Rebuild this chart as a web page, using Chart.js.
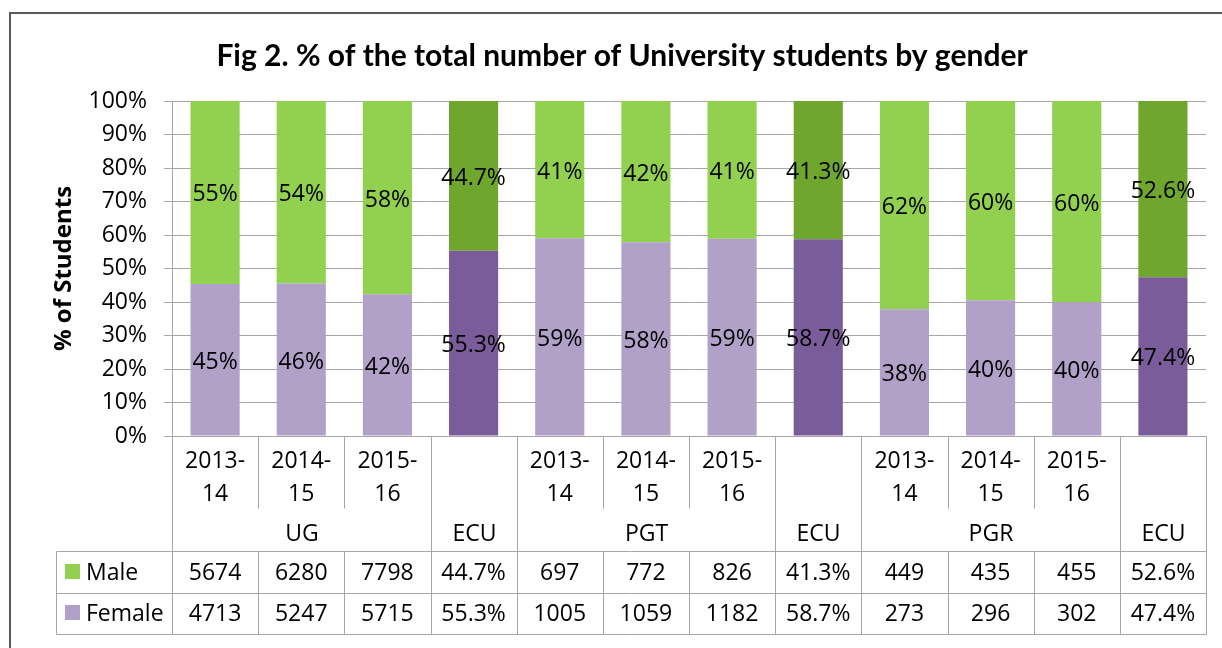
<!DOCTYPE html>
<html>
<head>
<meta charset="utf-8">
<script src="https://cdn.jsdelivr.net/npm/chart.js@4.4.1/dist/chart.umd.min.js"></script>
<style>
html,body{margin:0;padding:0;background:#fff;}
#wrap{width:1222px;height:648px;position:relative;}
</style>
</head>
<body>
<div id="wrap"><canvas id="c" width="1222" height="648"></canvas></div>
<script>
// ---- data ----
const titleText = 'Fig 2. % of the total number of University students by gender';
const yAxisTitle = '% of Students';
const periods = ['2013-14','2014-15','2015-16','','2013-14','2014-15','2015-16','','2013-14','2014-15','2015-16',''];
const groups  = ['UG','UG','UG','ECU','PGT','PGT','PGT','ECU','PGR','PGR','PGR','ECU'];
const maleValues   = [5674, 6280, 7798, 44.7, 697, 772, 826, 41.3, 449, 435, 455, 52.6];
const femaleValues = [4713, 5247, 5715, 55.3, 1005, 1059, 1182, 58.7, 273, 296, 302, 47.4];
const yTicks = [0,10,20,30,40,50,60,70,80,90,100];

const FONT = '"Open Sans", Lato, sans-serif';
const TITLE_FONT = 'Lato, "Open Sans", sans-serif';
const colMale = '#92D050', colMaleECU = '#6FA62E';
const colFemale = '#B1A0C7', colFemaleECU = '#7B5C9A';
const gridCol = '#A6A6A6';

const isECU = groups.map(g => g === 'ECU');
const totals = maleValues.map((m,i) => m + femaleValues[i]);
const malePct = maleValues.map((m,i) => m / totals[i] * 100);
const femalePct = femaleValues.map((f,i) => f / totals[i] * 100);
const fmtVal = (v,i) => isECU[i] ? v.toFixed(1) + '%' : String(v);
const fmtPct = (p,i) => isECU[i] ? p.toFixed(1) + '%' : Math.round(p) + '%';

const labelPlugin = {
  id: 'segLabels',
  afterDatasetsDraw(chart) {
    const ctx = chart.ctx;
    ctx.save();
    ctx.font = '23px ' + FONT;
    ctx.fillStyle = '#000';
    ctx.textAlign = 'center';
    ctx.textBaseline = 'alphabetic';
    chart.data.datasets.forEach((ds, di) => {
      const meta = chart.getDatasetMeta(di);
      meta.data.forEach((bar, i) => {
        const y = (bar.y + bar.base) / 2 + 9;
        ctx.fillText(fmtPct(ds.data[i], i), bar.x, y);
      });
    });
    ctx.restore();
  }
};

const tablePlugin = {
  id: 'dataTable',
  afterDraw(chart) {
    const ctx = chart.ctx;
    const xs = chart.scales.x;
    const area = chart.chartArea;
    const n = periods.length;
    const step = (area.right - area.left) / n;
    const edge = i => Math.round(area.left + i * step) + 0.5;
    const top = Math.round(area.bottom) + 0.5;
    const yearBottom = 508.5, groupBottom = 551.5, row1Bottom = 593.5, row2Bottom = 634.5;
    const tableLeft = 56.5;
    ctx.save();
    ctx.strokeStyle = '#595959';
    ctx.lineWidth = 2;
    ctx.beginPath();
    ctx.moveTo(10, 648); ctx.lineTo(10, 13); ctx.lineTo(1222, 13);
    ctx.stroke();

    ctx.strokeStyle = gridCol;
    ctx.lineWidth = 1;
    ctx.beginPath();
    ctx.moveTo(area.left, top); ctx.lineTo(edge(n), top);
    ctx.moveTo(tableLeft, groupBottom); ctx.lineTo(edge(n), groupBottom);
    ctx.moveTo(tableLeft, row1Bottom); ctx.lineTo(edge(n), row1Bottom);
    ctx.moveTo(tableLeft, row2Bottom); ctx.lineTo(edge(n), row2Bottom);
    ctx.moveTo(tableLeft, groupBottom); ctx.lineTo(tableLeft, row2Bottom);
    for (let i = 0; i <= n; i++) {
      const x = edge(i);
      const groupEdge = i === 0 || i === n || groups[i] !== groups[i-1];
      if (groupEdge) {
        ctx.moveTo(x, top); ctx.lineTo(x, row2Bottom);
      } else {
        ctx.moveTo(x, top); ctx.lineTo(x, yearBottom);
        ctx.moveTo(x, groupBottom); ctx.lineTo(x, row2Bottom);
      }
    }
    ctx.stroke();

    ctx.fillStyle = '#000';
    ctx.font = '23px ' + FONT;
    ctx.textAlign = 'center';
    ctx.textBaseline = 'alphabetic';
    for (let i = 0; i < n; i++) {
      const cx = xs.getPixelForValue(i);
      if (periods[i]) {
        const k = periods[i].indexOf('-');
        ctx.fillText(periods[i].slice(0, k + 1), cx, 468);
        ctx.fillText(periods[i].slice(k + 1), cx, 501);
      }
      ctx.fillText(fmtVal(maleValues[i], i), cx, 580);
      ctx.fillText(fmtVal(femaleValues[i], i), cx, 621);
    }
    let s = 0;
    for (let i = 1; i <= n; i++) {
      if (i === n || groups[i] !== groups[s]) {
        const cx = (edge(s) + edge(i)) / 2;
        ctx.fillText(groups[s], cx, 541);
        s = i;
      }
    }
    ctx.textAlign = 'left';
    ctx.fillStyle = colMale;
    ctx.fillRect(65, 564, 15, 15);
    ctx.fillStyle = colFemale;
    ctx.fillRect(65, 605, 15, 15);
    ctx.fillStyle = '#000';
    ctx.fillText('Male', 86, 580);
    ctx.fillText('Female', 86, 621);
    ctx.restore();
  }
};

new Chart(document.getElementById('c'), {
  type: 'bar',
  data: {
    labels: periods.map((p,i) => p || groups[i]),
    datasets: [
      { label: 'Female', data: femalePct,
        backgroundColor: isECU.map(e => e ? colFemaleECU : colFemale),
        barPercentage: 0.57, categoryPercentage: 1.0 },
      { label: 'Male', data: malePct,
        backgroundColor: isECU.map(e => e ? colMaleECU : colMale),
        barPercentage: 0.57, categoryPercentage: 1.0 }
    ]
  },
  options: {
    responsive: false,
    animation: false,
    layout: { padding: { left: 38, right: 16, top: 0, bottom: 212 } },
    plugins: {
      legend: { display: false },
      tooltip: { enabled: false },
      title: {
        display: true, text: titleText, color: '#000',
        font: { family: TITLE_FONT, size: 30, weight: 'bold', lineHeight: 1.2 },
        padding: { top: 38, bottom: 27 }
      }
    },
    scales: {
      x: { display: false, stacked: true },
      y: {
        stacked: true, min: 0, max: 100,
        afterFit: s => { s.width = 134; },
        afterBuildTicks: s => { s.ticks = yTicks.map(v => ({ value: v })); },
        ticks: { color: '#000', padding: 17, font: { family: FONT, size: 23 },
                 callback: v => v + '%' },
        grid: { color: gridCol, lineWidth: 1, tickLength: 8, drawTicks: true },
        border: { display: true, color: gridCol },
        title: { display: true, text: yAxisTitle, color: '#000',
                 font: { family: FONT, size: 24, weight: 'bold', lineHeight: 1.2 },
                 padding: { top: 12, bottom: 0 } }
      }
    }
  },
  plugins: [labelPlugin, tablePlugin]
});
</script>
</body>
</html>
